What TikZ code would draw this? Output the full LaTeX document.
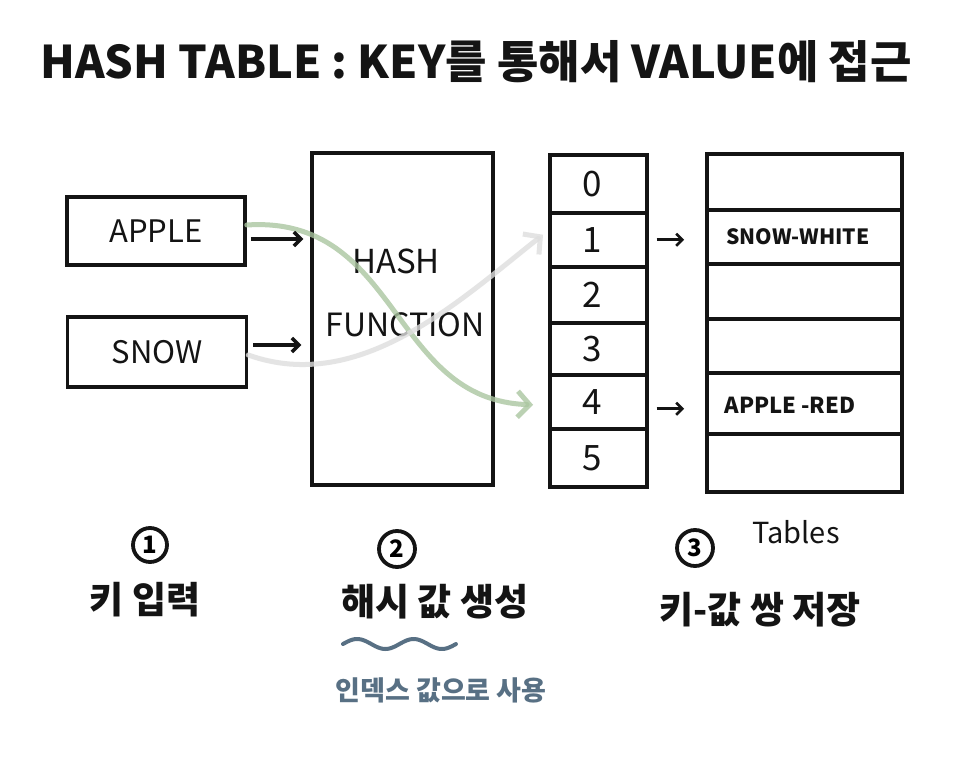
\documentclass[tikz,border=0pt]{standalone}
\usepackage{fontspec}
\setmainfont{Noto Sans CJK KR}
\usetikzlibrary{arrows.meta,calc}
\definecolor{ink}{RGB}{20,20,20}
\definecolor{hlgreen}{RGB}{170,198,160}
\definecolor{hlgrey}{RGB}{222,222,222}
\definecolor{slate}{RGB}{88,112,132}
\tikzset{
  box/.style={draw=ink, line width=3.5pt, inner sep=0pt},
  cell/.style={draw=ink, line width=3.5pt, inner sep=0pt, anchor=north west},
  arr/.style={draw=ink, line width=3.5pt, -{Straight Barb[length=7pt,width=14pt]}},
  arrs/.style={draw=ink, line width=2.6pt, -{Straight Barb[length=6pt,width=12pt]}},
  flow/.style={line width=5pt, line cap=round, -{Straight Barb[length=12pt,width=26pt]}},
  circnum/.style={draw=ink, circle, line width=3.8pt, inner sep=0pt, font=\fontsize{24}{24}\selectfont\bfseries},
  lbl/.style={font=\fontsize{37}{39}\selectfont\bfseries, text=ink},
}
\begin{document}
\begin{tikzpicture}[x=1pt,y=-1pt]
\useasboundingbox (0,0) rectangle (960,773);
\fill[white] (0,0) rectangle (960,773);

% title
\node[anchor=west, font=\fontsize{45}{47}\selectfont\bfseries, text=ink, inner sep=0pt] (title) at (40,62) {HASH TABLE : KEY를 통해서 VALUE에 접근};

% keys
\node[box, minimum width=178pt, minimum height=68pt] (apple) at (156,231) {};
\node[font=\fontsize{31}{32}\selectfont, text=ink] (appletxt) at (apple.center) {APPLE};
\node[box, minimum width=179pt, minimum height=70pt] (snow) at (157,352) {};
\node[font=\fontsize{31}{32}\selectfont, text=ink] (snowtxt) at (snow.center) {SNOW};

% hash function
\node[box, minimum width=181pt, minimum height=332pt] (hash) at (402.5,319) {};
\node[font=\fontsize{33}{34}\selectfont, text=ink] (hashtxt) at (396,261) {HASH};
\node[font=\fontsize{32}{34}\selectfont, text=ink] (functxt) at (405,325) {FUNCTION};

% index column
\node[cell, minimum width=97pt, minimum height=58pt] (i0) at (548,153) {};
\node[cell, minimum width=97pt, minimum height=54pt] (i1) at (548,211) {};
\node[cell, minimum width=97pt, minimum height=56pt] (i2) at (548,265) {};
\node[cell, minimum width=97pt, minimum height=52pt] (i3) at (548,321) {};
\node[cell, minimum width=97pt, minimum height=54pt] (i4) at (548,373) {};
\node[cell, minimum width=97pt, minimum height=58pt] (i5) at (548,427) {};
\foreach \k in {0,...,5}{
  \node[font=\fontsize{35}{35}\selectfont, text=ink] (n\k) at ([xshift=-6pt]i\k.center) {\k};
}

% table
\node[cell, minimum width=195pt, minimum height=56pt] (t0) at (705,152) {};
\node[cell, minimum width=195pt, minimum height=54pt] (t1) at (705,208) {};
\node[cell, minimum width=195pt, minimum height=55pt] (t2) at (705,262) {};
\node[cell, minimum width=195pt, minimum height=54pt] (t3) at (705,317) {};
\node[cell, minimum width=195pt, minimum height=61pt] (t4) at (705,371) {};
\node[cell, minimum width=195pt, minimum height=58pt] (t5) at (705,432) {};
\node[font=\fontsize{21}{22}\selectfont\bfseries, text=ink] (sw) at (798,237) {SNOW-WHITE};
\node[font=\fontsize{22}{22}\selectfont\bfseries, text=ink] (ar) at (790,405) {APPLE -RED};

% highlighted flow curves
\draw[flow, hlgreen, opacity=0.8] ([yshift=6pt]apple.east) .. controls (400,215) and (390,400) .. ([xshift=-15pt,yshift=-3pt]i4.west);
\draw[flow, hlgrey, opacity=0.8] ([yshift=-3pt]snow.east) .. controls (360,395) and (460,300) .. ([xshift=-5pt,yshift=5pt]i1.west);

% black arrows
\path ([xshift=4pt,yshift=-8pt]apple.east) coordinate (a1);
\draw[arr, shorten >=7pt] (a1) -- (a1 -| hash.west);
\path ([xshift=5pt,yshift=7pt]snow.east) coordinate (s1);
\draw[arr, shorten >=9pt] (s1) -- (s1 -| hash.west);
\draw[arrs, shorten <=8pt, shorten >=21pt] (i1.east) -- (i1.east -| t1.west);
\draw[arrs, shorten <=8pt, shorten >=21pt] ([yshift=-7pt]i4.east) -- ([yshift=-7pt]i4.east -| t4.west);

% bottom steps
\node[circnum, minimum size=34pt] (c1) at (150,545) {1};
\node[lbl] (s1t) at (145,600) {키 입력};
\node[circnum, minimum size=36pt] (c2) at (397,549) {2};
\node[lbl] (s2t) at (435,602) {해시 값 생성};
\draw[slate, line width=4pt, line cap=round] plot[domain=0:1, samples=60] ({343+113*\x},{644-5*sin(\x*720)});
\node[font=\fontsize{27}{28}\selectfont\bfseries, text=slate] (s2n) at (441,690) {인덱스 값으로 사용};
\node[circnum, minimum size=36pt] (c3) at (695,548) {3};
\node[font=\fontsize{29}{30}\selectfont, text=ink] (tables) at (796,532) {Tables};
\node[lbl] (s3t) at (760,610) {키-값 쌍 저장};
\end{tikzpicture}
\end{document}
